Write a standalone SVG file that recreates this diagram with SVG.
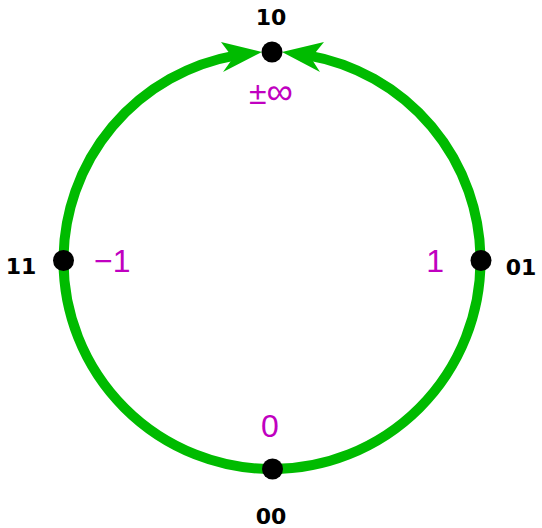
<svg xmlns="http://www.w3.org/2000/svg" width="542" height="528" viewBox="0 0 542 528">
<style>
.arc{fill:none;stroke:#00bb00;stroke-width:10}
.head{fill:#00bb00}
.dot{fill:#000}
.code{font-family:"DejaVu Sans",sans-serif;font-weight:bold;font-size:22px;fill:#000}
.val{font-family:"Liberation Sans",Arial,sans-serif;font-size:32px;fill:#c000c0}
</style>
<g id="connectors">
<path class="arc" d="M 272 469 A 208.5 208.5 0 0 1 63.5 260.5 A 208.5 208.5 0 0 1 236 55.3"/>
<path class="arc" d="M 272 469 A 208.5 208.5 0 0 0 480.5 260.5 A 208.5 208.5 0 0 0 308 55.3"/>
<polygon class="head" points="262,52 221,42 233,58 223,72"/>
<polygon class="head" points="282,52 324,42 311,58 320,72"/>
</g>
<g id="node10">
<circle class="dot" cx="272" cy="52" r="10.5"/>
<text class="code" x="271" y="25" text-anchor="middle">10</text>
<text class="val" x="271" y="104" text-anchor="middle" font-size="30">±<tspan font-size="37">∞</tspan></text>
</g>
<g id="node11">
<circle class="dot" cx="63.5" cy="260.5" r="10.5"/>
<text class="code" x="21" y="274" text-anchor="middle">11</text>
<text class="val" x="94" y="272">−1</text>
</g>
<g id="node01">
<circle class="dot" cx="481" cy="260.5" r="10.5"/>
<text class="code" x="521" y="275" text-anchor="middle">01</text>
<text class="val" x="444" y="272" text-anchor="end">1</text>
</g>
<g id="node00">
<circle class="dot" cx="272.5" cy="469" r="10.5"/>
<text class="code" x="271" y="524" text-anchor="middle">00</text>
<text class="val" x="270" y="437" text-anchor="middle">0</text>
</g>
</svg>
